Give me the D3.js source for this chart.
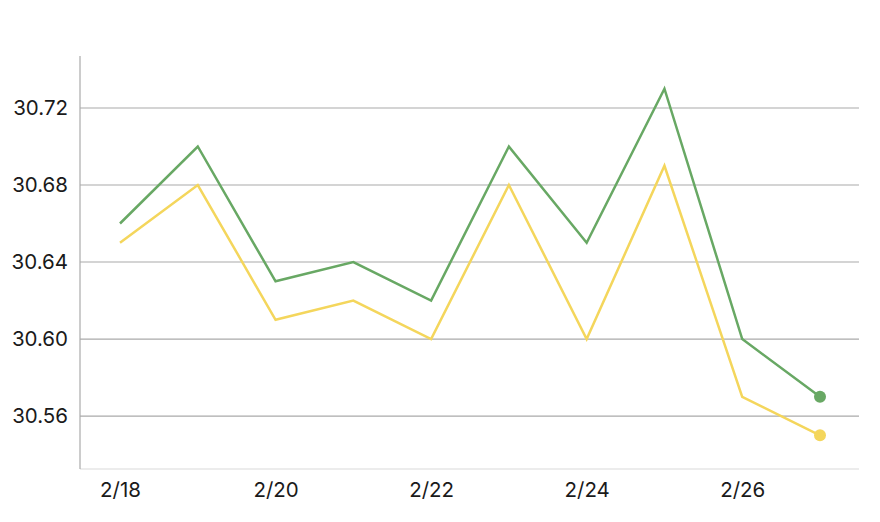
<!DOCTYPE html>
<html><head><meta charset="utf-8">
<script src="https://cdn.jsdelivr.net/npm/d3@7"></script>
<style>body{margin:0;background:#fff}svg{display:block}</style>
</head><body>
<svg id="c" width="880" height="522"></svg>
<script>
const dates = ["2/18","2/19","2/20","2/21","2/22","2/23","2/24","2/25","2/26","2/27"];
const greenValues = [30.66,30.70,30.63,30.64,30.62,30.70,30.65,30.73,30.60,30.57];
const yellowValues = [30.65,30.68,30.61,30.62,30.60,30.68,30.60,30.69,30.57,30.55];
const yTicks = [30.56,30.60,30.64,30.68,30.72];
const xTickLabels = ["2/18","2/20","2/22","2/24","2/26"];

(function(){
const svg = d3.select("#c");
const mLeft = 80, mRight = 860, mTop = 56, mBottom = 469;
const x = d3.scalePoint().domain(dates).range([120, 820]);
const y = d3.scaleLinear().domain([30.5325, 30.747]).range([mBottom, mTop]);
const font = "Inter, 'Liberation Sans', Helvetica, Arial, sans-serif";

svg.append("g").selectAll("line").data(yTicks).join("line")
  .attr("x1", mLeft).attr("x2", mRight - 1)
  .attr("y1", d => y(d)).attr("y2", d => y(d))
  .attr("stroke", "#aaaaaa").attr("stroke-width", 1.2);

svg.append("line").attr("x1", mLeft).attr("x2", mRight - 1).attr("y1", mBottom).attr("y2", mBottom)
  .attr("stroke", "#d9d9d9").attr("stroke-width", 1.2);
svg.append("line").attr("x1", mLeft).attr("x2", mLeft).attr("y1", mTop).attr("y2", mBottom)
  .attr("stroke", "#aaaaaa").attr("stroke-width", 1.2);

const yAxis = d3.axisLeft(y).tickValues(yTicks).tickFormat(d3.format(".2f")).tickSize(0).tickPadding(12);
const ya = svg.append("g").attr("transform", `translate(${mLeft},0)`).call(yAxis);
ya.select(".domain").remove();
ya.selectAll("text").attr("font-family", font).attr("font-size", 20.5).attr("fill", "#1a1a1a");

const xAxis = d3.axisBottom(x).tickValues(xTickLabels).tickSize(0).tickPadding(13);
const xa = svg.append("g").attr("transform", `translate(0,${mBottom})`).call(xAxis);
xa.select(".domain").remove();
xa.selectAll("text").attr("font-family", font).attr("font-size", 20.5).attr("fill", "#1a1a1a");

const line = d3.line().x((d,i) => x(dates[i])).y(d => y(d));
const series = [
  {values: yellowValues, color: "#f4d65c"},
  {values: greenValues, color: "#68a864"}
];
series.forEach(s => {
  svg.append("path").datum(s.values).attr("d", line)
    .attr("fill", "none").attr("stroke", s.color).attr("stroke-width", 2.5)
    .attr("stroke-linejoin", "miter");
  const last = s.values.length - 1;
  svg.append("circle").attr("cx", x(dates[last])).attr("cy", y(s.values[last]))
    .attr("r", 6).attr("fill", s.color);
});
})();
</script>
</body></html>
